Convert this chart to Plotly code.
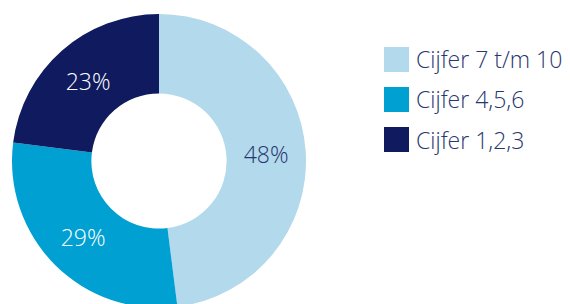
import plotly.graph_objects as go

categories = ["Cijfer 7 t/m 10", "Cijfer 4,5,6", "Cijfer 1,2,3"]
values = [48, 29, 23]
colors = ["#b3d9ec", "#00a0d2", "#0f1b5e"]
text_colors = ["#28366e", "#ffffff", "#ffffff"]

W, H = 570, 322
FONT = "Open Sans"

fig = go.Figure()
fig.add_trace(go.Pie(
    labels=categories,
    values=values,
    sort=False,
    direction="clockwise",
    rotation=0,
    hole=0.46,
    marker=dict(colors=colors, line=dict(width=0)),
    textinfo="percent",
    texttemplate="%{percent:.0%}",
    textposition="inside",
    insidetextorientation="horizontal",
    insidetextfont=dict(family=FONT, size=23, color=text_colors, weight=300),
    domain=dict(x=[12 / W, 306 / W], y=[1 - 308 / H, 1 - 14 / H]),
    showlegend=False,
    hoverinfo="label+percent",
))

shapes = []
annotations = []
for i, (cat, col) in enumerate(zip(categories, colors)):
    top = 47 + 40 * i
    shapes.append(dict(type="rect", xref="paper", yref="paper",
                       x0=384 / W, x1=409 / W, y0=1 - (top + 25) / H, y1=1 - top / H,
                       fillcolor=col, line=dict(width=0)))
    annotations.append(dict(xref="paper", yref="paper", x=414 / W, y=1 - (top + 12.5) / H,
                            xanchor="left", yanchor="middle", showarrow=False, text=cat,
                            font=dict(family=FONT, size=23, color="#28366e", weight=300)))

fig.update_layout(
    width=W, height=H,
    margin=dict(l=0, r=0, t=0, b=0),
    paper_bgcolor="white", plot_bgcolor="white",
    shapes=shapes, annotations=annotations,
    showlegend=False,
)

fig.write_html("out.html", config={"displayModeBar": False},
               post_script="document.documentElement.style.overflow='hidden';document.body.style.overflow='hidden';document.body.style.margin='0';")
